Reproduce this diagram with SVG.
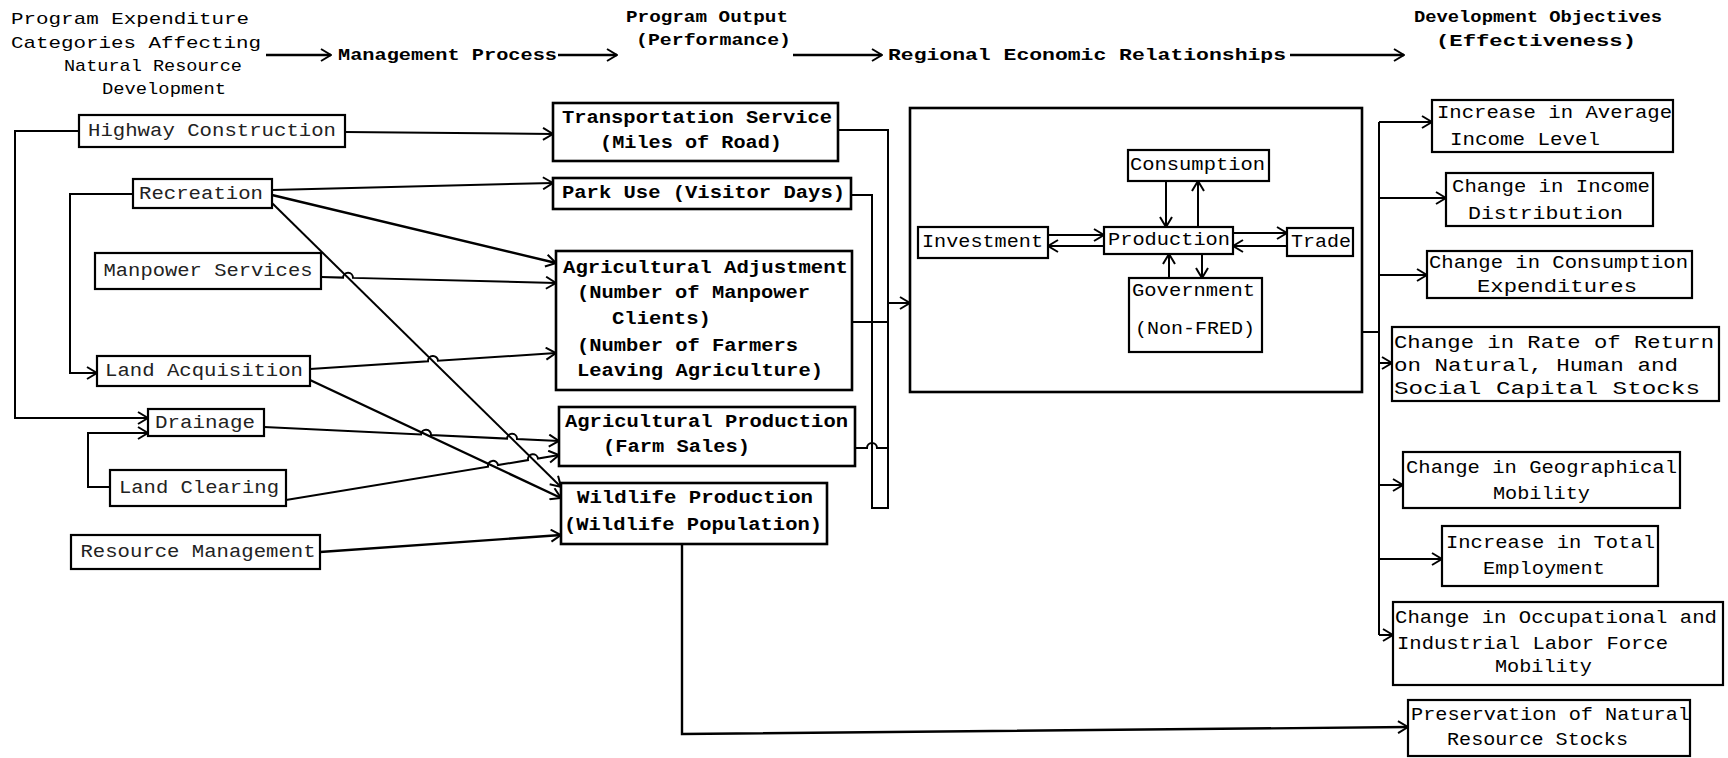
<svg xmlns="http://www.w3.org/2000/svg" width="1728" height="758" viewBox="0 0 1728 758">
<defs>
<marker id="ah" viewBox="0 0 12 14" refX="11" refY="7" markerWidth="12" markerHeight="14" markerUnits="userSpaceOnUse" orient="auto">
<path d="M1,1 L11,7 L1,13" fill="none" stroke="#000" stroke-width="2"/>
</marker>
<style>
.box{fill:#fff;stroke:#000;stroke-width:2.2}
.boxb{fill:#fff;stroke:#000;stroke-width:2.6}
.frame{fill:none;stroke:#000;stroke-width:2.6}
.ln{fill:none;stroke:#000;stroke-width:2}
.lnb{fill:none;stroke:#000;stroke-width:2.4}
.arr{marker-end:url(#ah)}
text{font-family:"Liberation Mono","DejaVu Sans Mono",monospace;fill:#000;dominant-baseline:central}
.th{font-size:17px}
.tl{font-size:18px;fill:#222}
.tm{font-size:19px;font-weight:bold}
.tr{font-size:18px}
.ti{font-size:18px}
</style>
</defs>
<rect width="1728" height="758" fill="#fff"/>

<g id="header">
<text class="th" x="11" y="19" textLength="238" lengthAdjust="spacingAndGlyphs">Program Expenditure</text>
<text class="th" x="11" y="43" textLength="250" lengthAdjust="spacingAndGlyphs">Categories Affecting</text>
<text class="th" x="64" y="66" textLength="178" lengthAdjust="spacingAndGlyphs">Natural Resource</text>
<text class="th" x="102" y="89" textLength="124" lengthAdjust="spacingAndGlyphs">Development</text>
<text class="th" x="338" y="55" textLength="219" lengthAdjust="spacingAndGlyphs" font-weight="bold">Management Process</text>
<text class="th" x="626" y="17" textLength="162" lengthAdjust="spacingAndGlyphs" font-weight="bold">Program Output</text>
<text class="th" x="636" y="40" textLength="155" lengthAdjust="spacingAndGlyphs" font-weight="bold">(Performance)</text>
<text class="th" x="888" y="55" textLength="398" lengthAdjust="spacingAndGlyphs" font-weight="bold">Regional Economic Relationships</text>
<text class="th" x="1414" y="17" textLength="248" lengthAdjust="spacingAndGlyphs" font-weight="bold">Development Objectives</text>
<text class="th" x="1436" y="41" textLength="200" lengthAdjust="spacingAndGlyphs" font-weight="bold">(Effectiveness)</text>
</g>

<g id="regional"><rect class="frame" x="910" y="108" width="452" height="284"/></g>

<g id="connectors">
<!-- header arrows -->
<path class="lnb arr" d="M266,55 H331"/>
<path class="lnb arr" d="M558,55 H617"/>
<path class="lnb arr" d="M793,55 H882"/>
<path class="lnb arr" d="M1290,55 H1404"/>
<!-- left loops -->
<path class="ln arr" d="M79,131 H15 V418 H148"/>
<path class="ln arr" d="M133,194 H70 V373 H97"/>
<path class="ln arr" d="M110,487 H88 V433 H148"/>
<!-- left to middle -->
<path class="ln arr" d="M345,132 L553,134"/>
<path class="ln arr" d="M272,190 L553,183"/>
<path class="lnb arr" d="M272,195 L556,263"/>
<path class="ln arr" d="M272,203 L561,487"/>
<path class="ln arr" d="M321,277 L343,277.6 A5,5 0 0 1 353,277.9 L556,283"/>
<path class="ln arr" d="M310,369 L428,361.3 A5,5 0 0 1 438,360.7 L556,353"/>
<path class="lnb arr" d="M310,380 L561,498"/>
<path class="ln arr" d="M264,427 L421,434.5 A5,5 0 0 1 431,435 L507,438.6 A5,5 0 0 1 517,439.1 L559,441"/>
<path class="ln arr" d="M286,500 L488,466.7 A5,5 0 0 1 498,465.1 L528,460.1 A5,5 0 0 1 538,458.5 L559,455"/>
<path class="lnb arr" d="M320,552 L561,535"/>
<!-- middle bundle -->
<path class="ln" d="M838,130 H888 V508 H872 V195 H851"/>
<path class="ln" d="M852,322 H888"/>
<path class="ln" d="M855,448 H867 A5,5 0 0 1 877,448 H888"/>
<path class="ln arr" d="M888,303 H910"/>
<!-- regional inner -->
<path class="ln arr" d="M1166,181 V227"/>
<path class="ln arr" d="M1198,227 V181"/>
<path class="ln arr" d="M1048,235 H1104"/>
<path class="ln arr" d="M1104,246 H1048"/>
<path class="ln arr" d="M1233,233 H1287"/>
<path class="ln arr" d="M1287,246 H1233"/>
<path class="ln arr" d="M1169,278 V254"/>
<path class="ln arr" d="M1202,254 V278"/>
<!-- right bundle -->
<path class="ln" d="M1362,332 H1379"/>
<path class="ln" d="M1379,122 V635"/>
<path class="ln arr" d="M1379,122 H1432"/>
<path class="ln arr" d="M1379,198 H1446"/>
<path class="ln arr" d="M1379,275 H1427"/>
<path class="ln arr" d="M1379,363 H1392"/>
<path class="ln arr" d="M1379,485 H1403"/>
<path class="ln arr" d="M1379,559 H1442"/>
<path class="ln arr" d="M1379,635 H1393"/>
<!-- wildlife to preservation -->
<path class="lnb arr" d="M682,544 V734 L1408,727"/>
</g>

<!-- left column -->
<g id="highway"><rect class="box" x="79" y="115" width="266" height="32"/><text class="tl" x="212" y="131" text-anchor="middle" textLength="248" lengthAdjust="spacingAndGlyphs">Highway Construction</text></g>
<g id="recreation"><rect class="box" x="133" y="179" width="139" height="29"/><text class="tl" x="201" y="194" text-anchor="middle" textLength="124" lengthAdjust="spacingAndGlyphs">Recreation</text></g>
<g id="manpower"><rect class="box" x="95" y="253" width="226" height="36"/><text class="tl" x="208" y="271" text-anchor="middle" textLength="209" lengthAdjust="spacingAndGlyphs">Manpower Services</text></g>
<g id="landacq"><rect class="box" x="97" y="356" width="213" height="30"/><text class="tl" x="204" y="371" text-anchor="middle" textLength="198" lengthAdjust="spacingAndGlyphs">Land Acquisition</text></g>
<g id="drainage"><rect class="box" x="148" y="409" width="116" height="27"/><text class="tl" x="205" y="423" text-anchor="middle" textLength="100" lengthAdjust="spacingAndGlyphs">Drainage</text></g>
<g id="landclear"><rect class="box" x="110" y="470" width="176" height="36"/><text class="tl" x="199" y="488" text-anchor="middle" textLength="160" lengthAdjust="spacingAndGlyphs">Land Clearing</text></g>
<g id="resmgmt"><rect class="box" x="71" y="535" width="249" height="34"/><text class="tl" x="198" y="552" text-anchor="middle" textLength="235" lengthAdjust="spacingAndGlyphs">Resource Management</text></g>

<!-- middle column -->
<g id="transport"><rect class="boxb" x="553" y="103" width="285" height="58"/>
<text class="tm" x="562" y="118" textLength="270" lengthAdjust="spacingAndGlyphs">Transportation Service</text>
<text class="tm" x="600" y="143" textLength="182" lengthAdjust="spacingAndGlyphs">(Miles of Road)</text></g>
<g id="parkuse"><rect class="boxb" x="553" y="178" width="298" height="31"/>
<text class="tm" x="562" y="193" textLength="283" lengthAdjust="spacingAndGlyphs">Park Use (Visitor Days)</text></g>
<g id="agadj"><rect class="boxb" x="556" y="251" width="296" height="139"/>
<text class="tm" x="563" y="268" textLength="285" lengthAdjust="spacingAndGlyphs">Agricultural Adjustment</text>
<text class="tm" x="577" y="293" textLength="233" lengthAdjust="spacingAndGlyphs">(Number of Manpower</text>
<text class="tm" x="612" y="319" textLength="99" lengthAdjust="spacingAndGlyphs">Clients)</text>
<text class="tm" x="577" y="346" textLength="221" lengthAdjust="spacingAndGlyphs">(Number of Farmers</text>
<text class="tm" x="577" y="371" textLength="246" lengthAdjust="spacingAndGlyphs">Leaving Agriculture)</text></g>
<g id="agprod"><rect class="boxb" x="559" y="407" width="296" height="59"/>
<text class="tm" x="565" y="422" textLength="283" lengthAdjust="spacingAndGlyphs">Agricultural Production</text>
<text class="tm" x="603" y="447" textLength="147" lengthAdjust="spacingAndGlyphs">(Farm Sales)</text></g>
<g id="wildlife"><rect class="boxb" x="561" y="483" width="266" height="61"/>
<text class="tm" x="577" y="498" textLength="236" lengthAdjust="spacingAndGlyphs">Wildlife Production</text>
<text class="tm" x="564" y="525" textLength="258" lengthAdjust="spacingAndGlyphs">(Wildlife Population)</text></g>

<!-- regional inner -->
<g id="consumption"><rect class="box" x="1128" y="150" width="141" height="31"/><text class="ti" x="1130" y="165" textLength="135" lengthAdjust="spacingAndGlyphs">Consumption</text></g>
<g id="investment"><rect class="box" x="918" y="227" width="130" height="31"/><text class="ti" x="922" y="242" textLength="121" lengthAdjust="spacingAndGlyphs">Investment</text></g>
<g id="production"><rect class="box" x="1104" y="227" width="129" height="27"/><text class="ti" x="1108" y="240" textLength="122" lengthAdjust="spacingAndGlyphs">Production</text></g>
<g id="trade"><rect class="box" x="1287" y="228" width="66" height="28"/><text class="ti" x="1291" y="242" textLength="60" lengthAdjust="spacingAndGlyphs">Trade</text></g>
<g id="government"><rect class="box" x="1129" y="278" width="133" height="74"/>
<text class="ti" x="1132" y="291" textLength="123" lengthAdjust="spacingAndGlyphs">Government</text>
<text class="ti" x="1135" y="329" textLength="120" lengthAdjust="spacingAndGlyphs">(Non-FRED)</text></g>

<!-- right column -->
<g id="obj1"><rect class="box" x="1432" y="100" width="241" height="52"/>
<text class="tr" x="1437" y="113" textLength="235" lengthAdjust="spacingAndGlyphs">Increase in Average</text>
<text class="tr" x="1450" y="140" textLength="150" lengthAdjust="spacingAndGlyphs">Income Level</text></g>
<g id="obj2"><rect class="box" x="1446" y="173" width="207" height="53"/>
<text class="tr" x="1452" y="187" textLength="198" lengthAdjust="spacingAndGlyphs">Change in Income</text>
<text class="tr" x="1468" y="214" textLength="155" lengthAdjust="spacingAndGlyphs">Distribution</text></g>
<g id="obj3"><rect class="box" x="1427" y="251" width="265" height="47"/>
<text class="tr" x="1429" y="263" textLength="259" lengthAdjust="spacingAndGlyphs">Change in Consumption</text>
<text class="tr" x="1477" y="287" textLength="160" lengthAdjust="spacingAndGlyphs">Expenditures</text></g>
<g id="obj4"><rect class="box" x="1392" y="327" width="327" height="74"/>
<text class="tr" x="1394" y="343" textLength="320" lengthAdjust="spacingAndGlyphs">Change in Rate of Return</text>
<text class="tr" x="1394" y="366" textLength="284" lengthAdjust="spacingAndGlyphs">on Natural, Human and</text>
<text class="tr" x="1394" y="389" textLength="306" lengthAdjust="spacingAndGlyphs">Social Capital Stocks</text></g>
<g id="obj5"><rect class="box" x="1403" y="452" width="277" height="56"/>
<text class="tr" x="1406" y="468" textLength="271" lengthAdjust="spacingAndGlyphs">Change in Geographical</text>
<text class="tr" x="1493" y="494" textLength="97" lengthAdjust="spacingAndGlyphs">Mobility</text></g>
<g id="obj6"><rect class="box" x="1442" y="526" width="216" height="60"/>
<text class="tr" x="1446" y="543" textLength="209" lengthAdjust="spacingAndGlyphs">Increase in Total</text>
<text class="tr" x="1483" y="569" textLength="122" lengthAdjust="spacingAndGlyphs">Employment</text></g>
<g id="obj7"><rect class="box" x="1393" y="602" width="330" height="83"/>
<text class="tr" x="1395" y="618" textLength="322" lengthAdjust="spacingAndGlyphs">Change in Occupational and</text>
<text class="tr" x="1397" y="644" textLength="271" lengthAdjust="spacingAndGlyphs">Industrial Labor Force</text>
<text class="tr" x="1495" y="667" textLength="97" lengthAdjust="spacingAndGlyphs">Mobility</text></g>
<g id="obj8"><rect class="box" x="1408" y="700" width="282" height="56"/>
<text class="tr" x="1411" y="715" textLength="279" lengthAdjust="spacingAndGlyphs">Preservation of Natural</text>
<text class="tr" x="1447" y="740" textLength="181" lengthAdjust="spacingAndGlyphs">Resource Stocks</text></g>
</svg>
